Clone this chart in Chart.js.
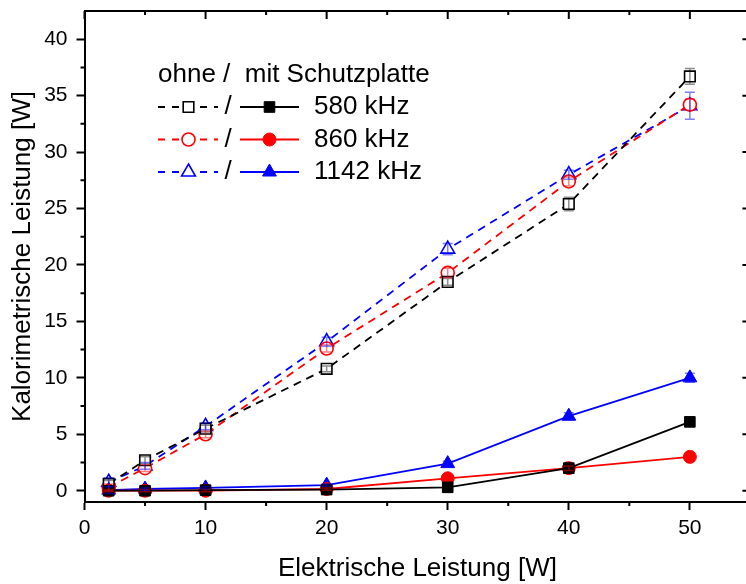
<!DOCTYPE html>
<html>
<head>
<meta charset="utf-8">
<script src="https://cdn.jsdelivr.net/npm/chart.js@4.4.1/dist/chart.umd.min.js"></script>
<style>
  html, body { margin: 0; padding: 0; background: #fff; overflow: hidden; }
  canvas { display: block; }
</style>
</head>
<body>
<canvas id="leistungChart" width="760" height="584"></canvas>
<script>
// Elektrische Leistung [W]
const xValues = [2, 5, 10, 20, 30, 40, 50];

// ohne Schutzplatte (offene Symbole, gestrichelt)
const ohne580 = [0.6, 2.7, 5.5, 10.8, 18.5, 25.4, 36.7];
const ohne860 = [0.3, 2.0, 5.0, 12.6, 19.3, 27.4, 34.2];
const ohne1142 = [0.75, 2.2, 5.7, 13.2, 21.4, 28.0, 34.1];
const errOhne580 = [0.3, 0.3, 0.3, 0.25, 0.3, 0.6, 0.7];
const errOhne860 = [0.3, 0.3, 0.3, 0.3, 0.4, 0.4, 0.5];
const errOhne1142 = [0.4, 0.3, 0.3, 0.4, 0.5, 0.4, 1.2];

// mit Schutzplatte (gefuellte Symbole, durchgezogen)
const mit580 = [0.0, 0.0, 0.05, 0.1, 0.3, 2.0, 6.1];
const mit860 = [0.0, 0.0, 0.0, 0.15, 1.1, 2.0, 3.0];
const mit1142 = [0.05, 0.15, 0.25, 0.5, 2.4, 6.6, 10.0];
const errMit580 = [0.1, 0.1, 0.1, 0.1, 0.1, 0.2, 0.2];
const errMit860 = [0.1, 0.1, 0.1, 0.1, 0.1, 0.2, 0.1];
const errMit1142 = [0.3, 0.1, 0.1, 0.1, 0.2, 0.3, 0.4];

const freqLabels = ['580 kHz', '860 kHz', '1142 kHz'];
const freqColors = ['#000000', '#ff0000', '#0000ff'];
const errColors = ['rgba(0,0,0,0.45)', 'rgba(255,0,0,0.5)', 'rgba(0,0,255,0.5)'];
const markerStyles = ['rect', 'circle', 'triangle'];
const markerSizes = [7.5, 6.5, 8];

const xTicks = [0, 10, 20, 30, 40, 50];
const yTicks = [0, 5, 10, 15, 20, 25, 30, 35, 40];

const FONT = '"Liberation Sans", Arial, Helvetica, sans-serif';

function points(ys, errs) {
    return xValues.map((x, i) => ({ x: x, y: ys[i], err: errs[i] }));
}

const mitSets = [[mit580, errMit580], [mit860, errMit860], [mit1142, errMit1142]];
const ohneSets = [[ohne580, errOhne580], [ohne860, errOhne860], [ohne1142, errOhne1142]];

const datasets = [];
mitSets.forEach((s, i) => {
    datasets.push({
        label: freqLabels[i] + ' mit',
        data: points(s[0], s[1]),
        borderColor: freqColors[i],
        backgroundColor: freqColors[i],
        borderWidth: 1.8,
        pointStyle: markerStyles[i],
        pointRadius: markerSizes[i],
        pointBackgroundColor: freqColors[i],
        pointBorderColor: freqColors[i],
        pointBorderWidth: 1,
        errColor: errColors[i]
    });
});
ohneSets.forEach((s, i) => {
    datasets.push({
        label: freqLabels[i] + ' ohne',
        data: points(s[0], s[1]),
        borderColor: freqColors[i],
        backgroundColor: '#ffffff',
        borderWidth: 1.8,
        borderDash: [8, 6],
        pointStyle: markerStyles[i],
        pointRadius: markerSizes[i],
        pointBackgroundColor: '#ffffff',
        pointBorderColor: freqColors[i],
        pointBorderWidth: 1.6,
        errColor: errColors[i]
    });
});

// Fehlerbalken
const errorBars = {
    id: 'errorBars',
    afterDatasetsDraw(chart) {
        const ctx = chart.ctx;
        const xs = chart.scales.x, ys = chart.scales.y;
        chart.data.datasets.forEach((ds) => {
            ctx.save();
            ctx.strokeStyle = ds.errColor;
            ctx.lineWidth = 1.5;
            ds.data.forEach((p) => {
                const px = xs.getPixelForValue(p.x);
                const top = ys.getPixelForValue(p.y + p.err);
                const bot = ys.getPixelForValue(p.y - p.err);
                ctx.beginPath();
                ctx.moveTo(px, top); ctx.lineTo(px, bot);
                ctx.moveTo(px - 5, top); ctx.lineTo(px + 5, top);
                ctx.moveTo(px - 5, bot); ctx.lineTo(px + 5, bot);
                ctx.stroke();
            });
            ctx.restore();
        });
    }
};

// Rahmen, Nebenteilstriche und Legende
const frameAndLegend = {
    id: 'frameAndLegend',
    afterDraw(chart) {
        const ctx = chart.ctx;
        const a = chart.chartArea;
        const xs = chart.scales.x, ys = chart.scales.y;
        ctx.save();
        ctx.strokeStyle = '#000';
        ctx.lineWidth = 2;
        ctx.beginPath();
        ctx.moveTo(a.left, a.top); ctx.lineTo(a.right, a.top);
        ctx.moveTo(a.right, a.top); ctx.lineTo(a.right, a.bottom);
        // x ticks: bottom minor outward, top major/minor inward
        for (let v = 0; v < xs.max; v += 5) {
            const px = xs.getPixelForValue(v);
            const major = v % 10 === 0;
            if (!major) { ctx.moveTo(px, a.bottom); ctx.lineTo(px, a.bottom + 4); }
            ctx.moveTo(px, a.top); ctx.lineTo(px, a.top + (major ? 8 : 4));
        }
        // y ticks: left minor outward, right major/minor inward
        for (let v = 0; v < ys.max; v += 2.5) {
            const py = ys.getPixelForValue(v);
            const major = v % 5 === 0;
            if (!major) { ctx.moveTo(a.left, py); ctx.lineTo(a.left - 4, py); }
            ctx.moveTo(a.right, py); ctx.lineTo(a.right - (major ? 8 : 4), py);
        }
        ctx.stroke();

        // Legende
        ctx.fillStyle = '#000';
        ctx.font = '26px ' + FONT;
        ctx.textBaseline = 'middle';
        ctx.textAlign = 'left';
        ctx.fillText('ohne /  mit Schutzplatte', 158, 75);
        const rowY = [107, 139.5, 172];
        const drawPoint = Chart.helpers && Chart.helpers.drawPoint;
        freqLabels.forEach((lab, i) => {
            const y = rowY[i];
            ctx.strokeStyle = freqColors[i];
            ctx.lineWidth = 1.8;
            ctx.setLineDash([7, 7]);
            ctx.beginPath(); ctx.moveTo(158, y); ctx.lineTo(218, y); ctx.stroke();
            ctx.setLineDash([]);
            ctx.beginPath(); ctx.moveTo(240, y); ctx.lineTo(299, y); ctx.stroke();
            if (drawPoint) {
                ctx.fillStyle = '#ffffff';
                ctx.lineWidth = 1.6;
                drawPoint(ctx, { pointStyle: markerStyles[i], radius: markerSizes[i], rotation: 0, borderWidth: 1.6 }, 188.5, y);
                ctx.fillStyle = freqColors[i];
                ctx.lineWidth = 1;
                drawPoint(ctx, { pointStyle: markerStyles[i], radius: markerSizes[i], rotation: 0, borderWidth: 1 }, 269.5, y);
            }
            ctx.fillStyle = '#000';
            ctx.textAlign = 'center';
            ctx.fillText('/', 228, y);
            ctx.textAlign = 'left';
            ctx.fillText(lab, 314, y);
        });
        ctx.restore();
    }
};

const ctx = document.getElementById('leistungChart').getContext('2d');
new Chart(ctx, {
    type: 'line',
    data: { datasets: datasets },
    plugins: [errorBars, frameAndLegend],
    options: {
        responsive: false,
        animation: false,
        devicePixelRatio: 1,
        layout: { padding: { top: 11, right: 7, left: 0, bottom: 0 } },
        plugins: { legend: { display: false }, tooltip: { enabled: false } },
        scales: {
            x: {
                type: 'linear',
                min: 0,
                max: 55,
                afterFit(scale) {
                    scale.height = 82;
                    scale.paddingLeft = 0;
                    scale.paddingRight = 0;
                },
                afterBuildTicks(scale) { scale.ticks = xTicks.map(v => ({ value: v })); },
                border: { display: true, color: '#000', width: 2 },
                grid: { display: true, drawOnChartArea: false, drawTicks: true, tickLength: 8, tickColor: '#000', tickWidth: 2 },
                ticks: { color: '#000', padding: 6, maxRotation: 0, font: { family: FONT, size: 21 } },
                title: { display: true, text: 'Elektrische Leistung [W]', color: '#000', padding: { top: 0, bottom: 0 }, font: { family: FONT, size: 26, lineHeight: 1.2 } }
            },
            y: {
                type: 'linear',
                min: -1,
                max: 42.5,
                afterFit(scale) {
                    scale.width = 84.5;
                    scale.paddingTop = 0;
                    scale.paddingBottom = 0;
                },
                afterBuildTicks(scale) { scale.ticks = yTicks.map(v => ({ value: v })); },
                border: { display: true, color: '#000', width: 2 },
                grid: { display: true, drawOnChartArea: false, drawTicks: true, tickLength: 8, tickColor: '#000', tickWidth: 2 },
                ticks: { color: '#000', padding: 9, font: { family: FONT, size: 21 } },
                title: { display: true, text: 'Kalorimetrische Leistung [W]', color: '#000', padding: { top: 7, bottom: 0 }, font: { family: FONT, size: 26, lineHeight: 1.2 } }
            }
        }
    }
});
</script>
</body>
</html>
